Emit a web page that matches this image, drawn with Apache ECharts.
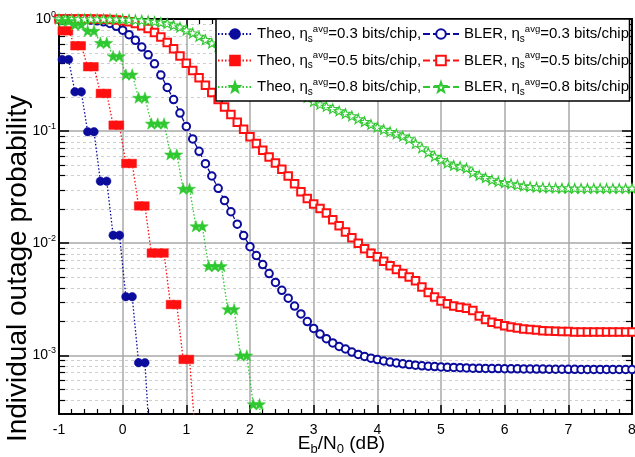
<!DOCTYPE html>
<html><head><meta charset="utf-8">
<script src="https://cdn.jsdelivr.net/npm/echarts@6/dist/echarts.min.js"></script>
<style>html,body{margin:0;padding:0;background:#fff}#c{width:635px;height:457px}</style>
</head><body><div id="c"></div>
<script>
const xs = [-1,-0.9,-0.8,-0.7,-0.6,-0.5,-0.4,-0.3,-0.2,-0.1,0,0.1,0.2,0.3,0.4,0.5,0.6,0.7,0.8,0.9,1,1.1,1.2,1.3,1.4,1.5,1.6,1.7,1.8,1.9,2,2.1,2.2,2.3,2.4,2.5,2.6,2.7,2.8,2.9,3,3.1,3.2,3.3,3.4,3.5,3.6,3.7,3.8,3.9,4,4.1,4.2,4.3,4.4,4.5,4.6,4.7,4.8,4.9,5,5.1,5.2,5.3,5.4,5.5,5.6,5.7,5.8,5.9,6,6.1,6.2,6.3,6.4,6.5,6.6,6.7,6.8,6.9,7,7.1,7.2,7.3,7.4,7.5,7.6,7.7,7.8,7.9,8];
const bler03 = [0.9989,0.9977,0.9954,0.9931,0.9886,0.9772,0.9638,0.9441,0.912,0.861,
0.794,0.724,0.646,0.562,0.479,0.398,0.316,0.245,0.191,0.145,
0.110,0.0851,0.0661,0.0513,0.0398,0.0309,0.0240,0.0191,0.0148,0.0117,
0.00933,0.00776,0.00646,0.00537,0.00447,0.00380,0.00324,0.00275,0.00234,0.00200,
0.00174,0.00155,0.00141,0.00129,0.00120,0.00114,0.00107,0.00102,0.000977,0.000944,
0.000917,0.000891,0.000871,0.000855,0.000841,0.000828,0.000817,0.000807,0.000800,0.000794,
0.000789,0.000783,0.000780,0.000776,0.000773,0.000769,0.000767,0.000765,0.000763,0.000762,
0.000760,0.000759,0.000758,0.000757,0.000756,0.000755,0.000754,0.000753,0.000752,0.000752,
0.000751,0.000751,0.000750,0.000750,0.000750,0.000749,0.000749,0.000749,0.000748,0.000748,
0.000748];
const bler05 = [0.9995,0.9993,0.9991,0.9986,0.9982,0.9977,0.9966,0.9954,0.9908,0.9817,
0.966,0.944,0.912,0.871,0.822,0.759,0.692,0.617,0.543,0.468,
0.403,0.347,0.299,0.257,0.221,0.191,0.164,0.141,0.120,0.104,
0.0891,0.0776,0.0676,0.0589,0.0519,0.0457,0.0398,0.0339,0.0288,0.0251,
0.0224,0.0204,0.0186,0.0162,0.0143,0.0126,0.0112,0.0100,0.00891,0.00813,
0.00759,0.00692,0.00631,0.00582,0.00537,0.00501,0.00462,0.00407,0.00363,0.00331,
0.00305,0.00288,0.00275,0.00269,0.00263,0.00251,0.00224,0.00209,0.00197,0.00191,
0.00184,0.00179,0.00175,0.00172,0.00170,0.00168,0.00166,0.00165,0.00164,0.00163,
0.00163,0.00162,0.00162,0.00162,0.00162,0.00162,0.00162,0.00162,0.00162,0.00162,
0.00162];
const bler08 = [0.9999,0.9999,0.9998,0.9998,0.9997,0.9996,0.9995,0.9993,0.9990,0.9986,
0.9954,0.9908,0.9840,0.9750,0.9638,0.9506,0.9333,0.9120,0.8810,0.8472,
0.7943,0.7499,0.6998,0.6531,0.6095,0.5689,0.5309,0.4955,0.4624,0.4315,
0.4027,0.3758,0.3508,0.3236,0.3020,0.2786,0.2570,0.2371,0.2188,0.1995,
0.1841,0.1738,0.1660,0.1585,0.1514,0.1439,0.1365,0.1288,0.1216,0.1148,
0.1084,0.1035,0.0989,0.0944,0.0902,0.0851,0.0776,0.0708,0.0646,0.0596,
0.0556,0.0519,0.0495,0.0484,0.0468,0.0427,0.0403,0.0385,0.0367,0.0355,
0.0347,0.0339,0.0331,0.0324,0.0319,0.0316,0.0314,0.0313,0.0311,0.0310,
0.0310,0.0309,0.0309,0.0309,0.0309,0.0309,0.0309,0.0309,0.0309,0.0309,
0.0309];
const theo03X = [-1.05,-0.95,-0.85,-0.75,-0.65,-0.55,-0.45,-0.35,-0.25,-0.15,-0.05,0.05,0.15,0.25,0.35,0.45];
const theo03Y = [0.66,0.435,0.435,0.224,0.224,0.0988,0.0988,0.0358,0.0358,0.0118,0.0118,0.00334,0.00334,0.00086,0.00086,0.0001];
const theo05X = [-1.05,-0.95,-0.85,-0.75,-0.65,-0.55,-0.45,-0.35,-0.25,-0.15,-0.05,0.05,0.15,0.25,0.35,0.45,0.55,0.65,0.75,0.85,0.95,1.05,1.15];
const theo05Y = [0.93,0.785,0.785,0.577,0.577,0.375,0.375,0.217,0.217,0.113,0.113,0.0515,0.0515,0.0215,0.0215,0.00818,0.00818,0.00818,0.00284,0.00284,0.00092,0.00092,0.00017];
const theo08X = [-1.05,-0.95,-0.85,-0.75,-0.65,-0.55,-0.45,-0.35,-0.25,-0.15,-0.05,0.05,0.15,0.25,0.35,0.45,0.55,0.65,0.75,0.85,0.95,1.05,1.15,1.25,1.35,1.45,1.55,1.65,1.75,1.85,1.95,2.05,2.15,2.25];
const theo08Y = [0.99,0.963,0.963,0.893,0.893,0.785,0.785,0.614,0.614,0.466,0.466,0.320,0.320,0.199,0.199,0.117,0.117,0.117,0.062,0.062,0.0307,0.0307,0.0142,0.0142,0.00626,0.00626,0.00626,0.00258,0.00258,0.00100,0.00100,0.000367,0.000367,0.00005];
const yMinor = [0.0004,0.0005,0.0006,0.0007,0.0008,0.0009,0.002,0.003,0.004,0.005,0.006,0.007,0.008,0.009,0.02,0.03,0.04,0.05,0.06,0.07,0.08,0.09,0.2,0.3,0.4,0.5,0.6,0.7,0.8,0.9];
const effs = ['0.3','0.5','0.8'];

const BLUE = '#0b0b9c', RED = '#ff1010', GREEN = '#30c830';
const STAR = 'path://M0,-10L2.35,-3.24L9.51,-3.09L3.8,1.24L5.88,8.09L0,4L-5.88,8.09L-3.8,1.24L-9.51,-3.09L-2.35,-3.24Z';
const FONT = 'Liberation Sans, Arial, sans-serif';

function pairs(x, y) { return x.map((v, i) => [v, y[i]]); }

function theoSeries(name, x, y, color, symbol, size) {
  return { name, type: 'line', data: pairs(x, y), symbol, symbolSize: size, symbolKeepAspect: true,
    lineStyle: { color, width: 1.3, type: [1.5, 2] }, itemStyle: { color, borderColor: color, borderWidth: 0.5 },
    z: 3 };
}
function blerSeries(name, y, color, symbol, size) {
  return { name, type: 'line', data: pairs(xs, y), symbol, symbolSize: size, symbolKeepAspect: true,
    lineStyle: { color, width: 1.3, type: [7, 3] },
    itemStyle: symbol === STAR ? { color: '#fff', borderColor: color, borderWidth: 1.1 } : { color, borderWidth: 1.1 },
    z: 2 };
}

const legendRich = {
  n: { fontSize: 15, fontFamily: FONT, color: '#000', lineHeight: 20 },
  e: { fontSize: 15, fontFamily: FONT, color: '#000', lineHeight: 20 },
  s: { fontSize: 10, fontFamily: FONT, color: '#000', lineHeight: 10, verticalAlign: 'bottom' },
  a: { fontSize: 9.5, fontFamily: FONT, color: '#000', lineHeight: 10, verticalAlign: 'top' }
};
function legendText(name) {
  const parts = name.split(' ');
  return '{n|' + parts[0] + ', }{e|η}{s|s}{a|avg}{n|=' + parts[1] + ' bits/chip' + (parts[0] === 'Theo' ? ',' : '') + '}';
}

const chart = echarts.init(document.getElementById('c'), null, { renderer: 'canvas' });
const yLabelRich = {
  b: { fontSize: 14, fontFamily: FONT, color: '#000', lineHeight: 18 },
  t: { fontSize: 9, fontFamily: FONT, color: '#000', lineHeight: 9, verticalAlign: 'top' }
};
function yFmt(v) {
  const l = Math.log10(v), e = Math.round(l);
  if (Math.abs(l - e) > 1e-6) return '';
  return '{b|10}{t|' + e + '}';
}
const commonY = { type: 'log', min: 0.0003, max: 1, logBase: 10 };

chart.setOption({
  animation: false,
  backgroundColor: '#fff',
  grid: { left: 59, top: 19, width: 573, height: 395, containLabel: false, outerBoundsMode: 'none' },
  xAxis: [
    { type: 'value', min: -1, max: 8, interval: 1, position: 'bottom',
      name: '{n|E}{s|b}{n|/N}{s|0}{n| (dB)}', nameLocation: 'middle', nameGap: 18, nameMoveOverlap: false,
      nameTextStyle: { padding: [0, 8, 0, 0], rich: {
        n: { fontSize: 19, fontFamily: FONT, color: '#000', lineHeight: 24 },
        s: { fontSize: 13, fontFamily: FONT, color: '#000', lineHeight: 13, verticalAlign: 'bottom' } } },
      axisLine: { show: true, onZero: false, lineStyle: { color: '#000', width: 2 } },
      axisTick: { show: true, inside: true, length: 9, lineStyle: { color: '#000', width: 1.5 } },
      minorTick: { show: true, splitNumber: 5, length: 5, lineStyle: { color: '#000', width: 1.2 } },
      axisLabel: { fontSize: 14, fontFamily: FONT, color: '#000', margin: 9 },
      splitLine: { show: true, lineStyle: { color: '#a8a8a8', width: 1.5 } } },
    { type: 'value', min: -1, max: 8, interval: 1, position: 'top',
      axisLine: { show: true, onZero: false, lineStyle: { color: '#000', width: 2 } },
      axisTick: { show: true, inside: true, length: 9, lineStyle: { color: '#000', width: 1.5 } },
      minorTick: { show: true, splitNumber: 5, length: 5, lineStyle: { color: '#000', width: 1.2 } },
      axisLabel: { show: false }, splitLine: { show: false } }
  ],
  yAxis: [
    Object.assign({}, commonY, { position: 'left',
      name: 'Individual outage probability', nameLocation: 'middle', nameGap: 27, nameMoveOverlap: false,
      nameTextStyle: { fontSize: 28, fontFamily: FONT, color: '#000', padding: [0, 104, 0, 0] },
      axisLine: { show: true, onZero: false, lineStyle: { color: '#000', width: 2 } },
      axisTick: { show: true, inside: true, length: 10, lineStyle: { color: '#000', width: 1.5 } },
      axisLabel: { formatter: yFmt, rich: yLabelRich, margin: 3 },
      splitLine: { show: true, lineStyle: { color: '#a8a8a8', width: 1.5 } } }),
    Object.assign({}, commonY, { position: 'left',
      axisLine: { show: false, onZero: false },
      axisTick: { show: true, inside: true, length: 6, customValues: yMinor, lineStyle: { color: '#000', width: 1.2 } },
      axisLabel: { show: false },
      splitLine: { show: true, lineStyle: { color: '#cfcfcf', width: 1, type: [3, 3] } } }),
    Object.assign({}, commonY, { position: 'right',
      axisLine: { show: true, onZero: false, lineStyle: { color: '#000', width: 2 } },
      axisTick: { show: true, inside: true, length: 10, lineStyle: { color: '#000', width: 1.5 } },
      axisLabel: { show: false }, splitLine: { show: false } }),
    Object.assign({}, commonY, { position: 'right',
      axisLine: { show: false, onZero: false },
      axisTick: { show: true, inside: true, length: 6, customValues: yMinor, lineStyle: { color: '#000', width: 1.2 } },
      axisLabel: { show: false }, splitLine: { show: false } })
  ],
  graphic: [{ type: 'rect', z: 10, shape: { x: 216, y: 19, width: 413.5, height: 82 },
    style: { fill: '#fff', stroke: '#000', lineWidth: 1.5 } }],
  legend: [
    { orient: 'vertical', left: 217, top: 24, itemWidth: 34, itemHeight: 12, itemGap: 6.5, padding: 0, z: 20,
      selectedMode: false, data: effs.map(e => 'Theo ' + e), formatter: legendText,
      textStyle: { rich: legendRich } },
    { orient: 'vertical', left: 422, top: 24, itemWidth: 36, itemHeight: 12, itemGap: 6.5, padding: 0, z: 20,
      selectedMode: false, data: effs.map(e => 'BLER ' + e), formatter: legendText,
      textStyle: { rich: legendRich } }
  ],
  series: [
    blerSeries('BLER 0.3', bler03, BLUE, 'emptyCircle', 7.5),
    blerSeries('BLER 0.5', bler05, RED, 'emptyRect', 7.5),
    blerSeries('BLER 0.8', bler08, GREEN, STAR, 10),
    theoSeries('Theo 0.3', theo03X, theo03Y, BLUE, 'circle', 8.5),
    theoSeries('Theo 0.5', theo05X, theo05Y, RED, 'rect', 8.5),
    theoSeries('Theo 0.8', theo08X, theo08Y, GREEN, STAR, 12)
  ]
});
</script></body></html>
